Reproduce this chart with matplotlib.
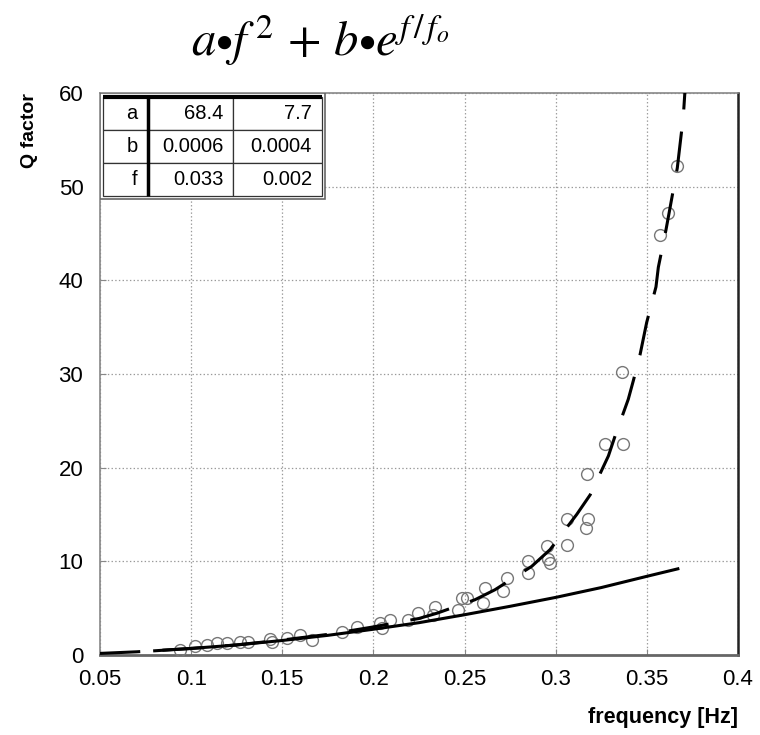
import numpy as np
import matplotlib
matplotlib.use("Agg")
import matplotlib.pyplot as plt
from matplotlib.patches import Rectangle

plt.rcParams['font.family'] = ['Liberation Sans', 'DejaVu Sans']
plt.rcParams['mathtext.fontset'] = 'stix'
plt.rcParams['lines.scale_dashes'] = False

# measured points (frequency, Q)
freq = [0.0939, 0.102, 0.1085, 0.114, 0.1195, 0.1268, 0.1314, 0.1433, 0.1442, 0.1524,
        0.1597, 0.1661, 0.1826, 0.1908, 0.2036, 0.2045, 0.2091, 0.2191, 0.2246, 0.2328,
        0.2338, 0.2466, 0.2484, 0.2511, 0.2603, 0.2612, 0.2712, 0.2731, 0.2849, 0.2849,
        0.295, 0.2959, 0.2969, 0.306, 0.306, 0.3178, 0.3166, 0.317, 0.327, 0.337,
        0.3362, 0.3572, 0.3617, 0.3668]
qfac = [0.5, 1.0, 1.07, 1.25, 1.25, 1.43, 1.43, 1.68, 1.43, 1.8,
        2.14, 1.6, 2.5, 3.0, 3.4, 2.86, 3.75, 3.75, 4.47, 4.3,
        5.1, 4.8, 6.07, 6.07, 5.54, 7.15, 6.8, 8.2, 10.0, 8.76,
        11.6, 10.2, 9.83, 14.5, 11.7, 14.5, 13.6, 19.3, 22.5, 22.5,
        30.2, 44.8, 47.2, 52.2]

# fit a*f^2 + b*exp(f/fo)
fit_f = [0.05, 0.07, 0.1, 0.125, 0.15, 0.175, 0.2, 0.225, 0.235, 0.2557, 0.2667, 0.2868,
         0.2969, 0.3115, 0.3189, 0.3289, 0.3326, 0.3398, 0.3426, 0.3462, 0.3499, 0.355,
         0.3563, 0.3605, 0.3623, 0.3667, 0.370, 0.3709]
fit_q = [0.17, 0.34, 0.7, 1.08, 1.6, 2.2, 3.0, 3.9, 4.47, 5.9, 6.97, 9.46,
         11.25, 15.0, 17.1, 21.25, 23.4, 27.3, 29.3, 32.0, 35.5, 39.3,
         41.4, 45.4, 47.3, 52.0, 57.5, 60.2]

# quadratic part a*f^2 only
quad_f = [0.08, 0.1, 0.125, 0.15, 0.175, 0.2, 0.225, 0.25, 0.275, 0.3, 0.325, 0.35, 0.367]
quad_q = [0.45, 0.7, 1.07, 1.55, 2.1, 2.75, 3.45, 4.3, 5.2, 6.15, 7.2, 8.4, 9.2]

row_names = ['a', 'b', 'f']
values = ['68.4', '0.0006', '0.033']
errors = ['7.7', '0.0004', '0.002']

fig = plt.figure(figsize=(7.6, 7.35), dpi=100)
ax = fig.add_axes([100/760, 80/735, 638/760, 562/735])

ax.plot(freq, qfac, 'o', mfc='none', mec='#777777', mew=1.0, ms=8.5, zorder=3)
ax.plot(quad_f, quad_q, '-', color='black', lw=2.2, zorder=4)
ax.plot(fit_f, fit_q, color='black', lw=2.2, dashes=(29, 16), zorder=4)

ax.set_xlim(0.05, 0.4)
ax.set_ylim(0, 60)
ax.set_xticks(np.arange(0.05, 0.401, 0.05))
ax.set_xticklabels(['0.05', '0.1', '0.15', '0.2', '0.25', '0.3', '0.35', '0.4'])
ax.set_yticks(range(0, 61, 10))
ax.grid(True, color='#999999', linestyle=':', linewidth=0.9)
ax.tick_params(direction='in', length=4, color='#888888', labelsize=16)
ax.tick_params(axis='x', pad=10)
ax.tick_params(axis='y', pad=12)
for s in ['left', 'top']:
    ax.spines[s].set_color('#888888')
    ax.spines[s].set_linewidth(1.2)
ax.spines['right'].set_color('#222222')
ax.spines['right'].set_linewidth(1.8)
ax.spines['bottom'].set_color('#666666')
ax.spines['bottom'].set_linewidth(2.0)

ax.set_xlabel('frequency [Hz]', loc='right', fontsize=15.5, weight='bold', labelpad=12)
ax.text(-0.11, 1.0, 'Q factor', transform=ax.transAxes, rotation=90, ha='center', va='top',
        fontsize=14, weight='bold')

fig.text(320/760, 1 - 40/735, r'$a{\bullet}f^{\,2}\,+\,b{\bullet}e^{f\,/\,f_o}$',
         ha='center', va='center', fontsize=35)

# parameter table
cells = [[n, v, e] for n, v, e in zip(row_names, values, errors)]
col_px = [45, 86, 89]
x0 = 3/638
y0 = 1 - (196 - 93)/562
tb = ax.table(cellText=cells, cellLoc='right', colWidths=[w/638 for w in col_px],
              bbox=[x0, y0, 219/638, (196 - 97)/562], zorder=6)
tb.auto_set_font_size(False)
tb.set_fontsize(14.5)
for (r, c), cell in tb.get_celld().items():
    cell.set_edgecolor('#333333')
    cell.set_linewidth(0.9)
    cell.set_facecolor('white')
    cell.PAD = 10 / col_px[c]

# double border, thick top band and thick first column line
ax.add_patch(Rectangle((0.0, y0 - 3/562), 225/638, 1 - y0 + 3/562, transform=ax.transAxes,
                       fill=True, facecolor='white', edgecolor='#666666', lw=1.2, zorder=5))
ax.plot([x0, x0 + 219/638], [1 - 4/562, 1 - 4/562], transform=ax.transAxes, color='black',
        lw=3, zorder=7, solid_capstyle='butt')
ax.plot([x0 + 45/638, x0 + 45/638], [y0, 1 - 4/562], transform=ax.transAxes, color='black',
        lw=2.5, zorder=7, solid_capstyle='butt')

fig.savefig('out.png', dpi=100)
